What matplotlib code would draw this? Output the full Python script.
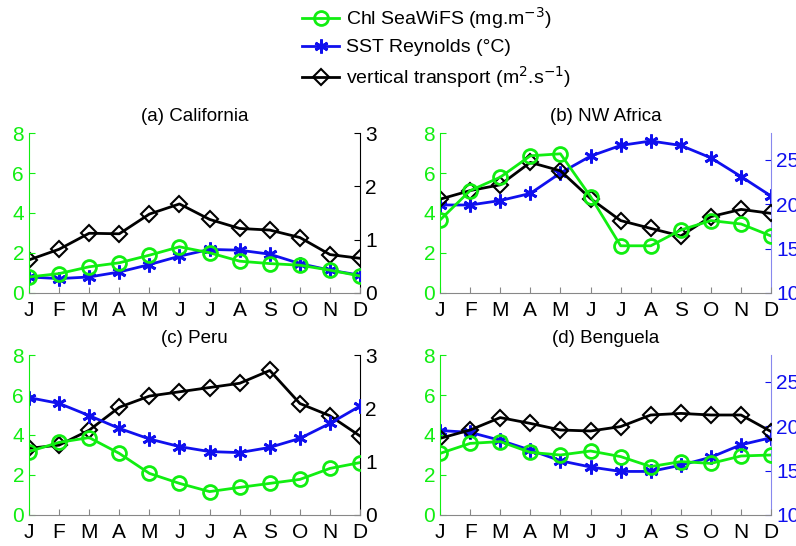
import matplotlib
matplotlib.use("Agg")
import matplotlib.pyplot as plt
from matplotlib.lines import Line2D
import numpy as np

plt.rcParams['font.family'] = ['Liberation Sans', 'DejaVu Sans']

months = ["J", "F", "M", "A", "M", "J", "J", "A", "S", "O", "N", "D"]

# (a) California
cal_chl = [0.80, 0.97, 1.31, 1.51, 1.89, 2.31, 2.01, 1.59, 1.47, 1.39, 1.14, 0.85]
cal_sst = [0.80, 0.72, 0.80, 1.05, 1.42, 1.84, 2.18, 2.14, 1.94, 1.47, 1.14, 0.89]
cal_vt = [0.62, 0.82, 1.12, 1.11, 1.48, 1.67, 1.38, 1.21, 1.18, 1.04, 0.72, 0.65]

# (b) NW Africa
nwa_chl = [3.65, 5.12, 5.79, 6.86, 6.96, 4.82, 2.36, 2.36, 3.15, 3.62, 3.45, 2.85]
nwa_vt = [4.69, 5.12, 5.41, 6.53, 6.11, 4.72, 3.62, 3.23, 2.85, 3.82, 4.18, 3.98]
nwa_sst = [19.9, 19.9, 20.4, 21.2, 23.5, 25.4, 26.6, 27.1, 26.6, 25.2, 23.1, 20.9]

# (c) Peru
per_chl = [3.17, 3.63, 3.87, 3.08, 2.08, 1.58, 1.17, 1.38, 1.58, 1.78, 2.33, 2.62]
per_sst = [5.87, 5.58, 4.97, 4.33, 3.80, 3.42, 3.17, 3.12, 3.38, 3.83, 4.58, 5.45]
per_vt = [1.25, 1.31, 1.59, 2.02, 2.23, 2.31, 2.39, 2.47, 2.71, 2.09, 1.86, 1.48]

# (d) Benguela
ben_chl = [3.08, 3.58, 3.67, 3.13, 3.00, 3.20, 2.92, 2.42, 2.67, 2.58, 2.95, 3.00]
ben_vt = [3.83, 4.25, 4.87, 4.58, 4.25, 4.20, 4.42, 5.00, 5.08, 5.00, 5.00, 4.17]
ben_sst = [19.5, 19.3, 18.4, 17.3, 16.1, 15.4, 14.9, 14.9, 15.6, 16.5, 17.9, 18.7]

GREEN = "#11ee11"
BLUE = "#1010ee"
BLACK = "black"
FS = 15
x = np.arange(1, 13)

chl_style = dict(color=GREEN, lw=2, marker="o", ms=10, mfc="none", mew=2)
sst_style = dict(color=BLUE, lw=2, marker=(6, 2, 0), ms=10, mew=2)
vt_style = dict(color=BLACK, lw=2, marker="D", ms=8.5, mfc="none", mew=1.5)


def base_axes(fig, rect, title):
    ax = fig.add_axes(rect)
    ax.set_xlim(1, 12)
    ax.set_ylim(0, 8)
    ax.set_yticks([0, 2, 4, 6, 8])
    ax.set_xticks(x)
    ax.set_xticklabels(months)
    ax.spines["top"].set_visible(False)
    ax.spines["right"].set_visible(False)
    ax.spines["left"].set_color(GREEN)
    ax.spines["bottom"].set_color("#888888")
    ax.tick_params(axis="y", colors=GREEN, labelsize=FS, direction="in", length=4)
    ax.tick_params(axis="x", labelsize=FS, direction="in", length=4, color="#888888", pad=6)
    ax.set_title(title, fontsize=13.5, pad=9)
    ax.patch.set_alpha(0)
    return ax


def right_axes(ax, lim, ticks, color, spine_color):
    ax2 = ax.twinx()
    ax2.set_ylim(*lim)
    ax2.set_yticks(ticks)
    for s in ["top", "left", "bottom"]:
        ax2.spines[s].set_visible(False)
    ax2.spines["right"].set_color(spine_color)
    ax2.tick_params(axis="y", colors=color, labelsize=FS, direction="in", length=4)
    ax2.set_zorder(ax.get_zorder() - 1)
    return ax2


fig = plt.figure(figsize=(7.96, 5.46), dpi=100)
w = 0.416
h = 0.293
top_b = 0.4634
bot_b = 0.0568
left_a = 0.0364
left_b = 0.5528

# (a)
ax = base_axes(fig, [left_a, top_b, w, h], "(a) California")
ax2 = right_axes(ax, (0, 3), [0, 1, 2, 3], BLACK, BLACK)
ax2.plot(x, cal_vt, **vt_style)
ax.plot(x, cal_sst, **sst_style)
ax.plot(x, cal_chl, **chl_style)

# (b)
ax = base_axes(fig, [left_b, top_b, w, h], "(b) NW Africa")
ax2 = right_axes(ax, (10, 28), [10, 15, 20, 25], BLUE, "#8888ee")
ax2.plot(x, nwa_sst, **sst_style)
ax.plot(x, nwa_vt, **vt_style)
ax.plot(x, nwa_chl, **chl_style)

# (c)
ax = base_axes(fig, [left_a, bot_b, w, h], "(c) Peru")
ax2 = right_axes(ax, (0, 3), [0, 1, 2, 3], BLACK, BLACK)
ax2.plot(x, per_vt, **vt_style)
ax.plot(x, per_sst, **sst_style)
ax.plot(x, per_chl, **chl_style)

# (d)
ax = base_axes(fig, [left_b, bot_b, w, h], "(d) Benguela")
ax2 = right_axes(ax, (10, 28), [10, 15, 20, 25], BLUE, "#8888ee")
ax2.plot(x, ben_sst, **sst_style)
ax.plot(x, ben_vt, **vt_style)
ax.plot(x, ben_chl, **chl_style)

handles = [
    Line2D([], [], **chl_style),
    Line2D([], [], **sst_style),
    Line2D([], [], **vt_style),
]
labels = [
    r"Chl SeaWiFS (mg.m$^{-3}$)",
    "SST Reynolds (°C)",
    r"vertical transport (m$^{2}$.s$^{-1}$)",
]
fig.legend(handles, labels, loc="upper left", bbox_to_anchor=(0.365, 1.012),
           frameon=False, fontsize=14, labelspacing=0.4, handlelength=1.9,
           handletextpad=0.35, borderaxespad=0.2)

fig.savefig("out.png", dpi=100)
